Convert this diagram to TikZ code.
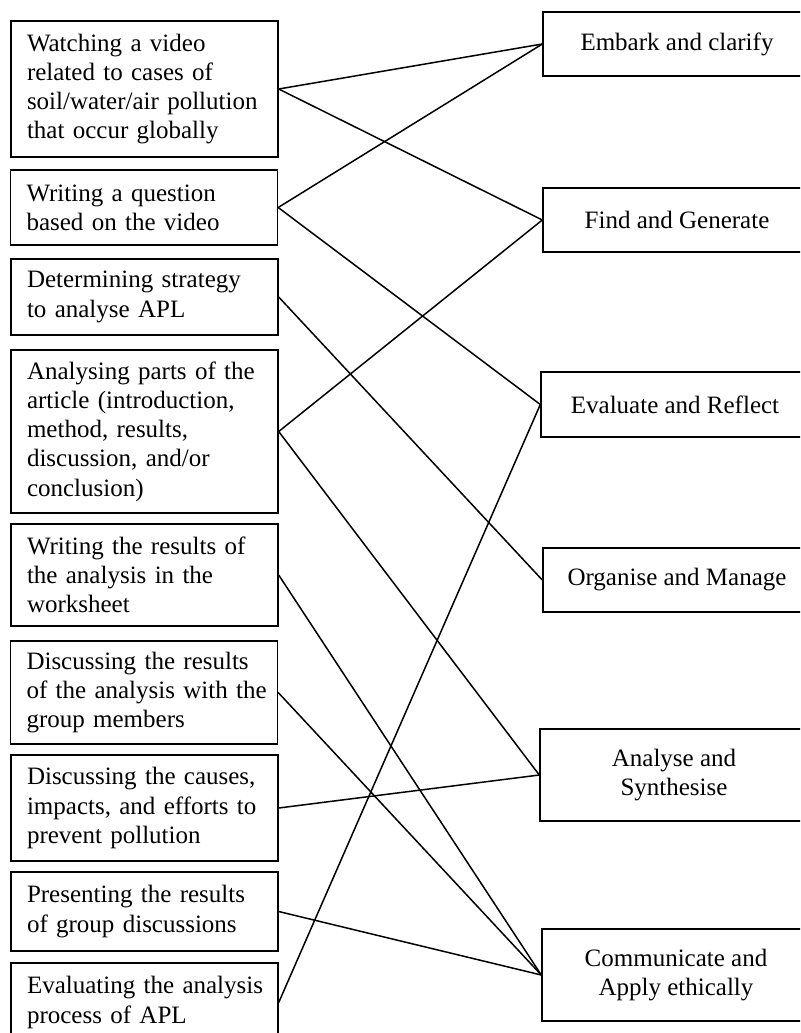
\documentclass[tikz,border=0pt]{standalone}
\usepackage{fontspec}
\setmainfont{Liberation Serif}
\usepackage{tikz}
\usetikzlibrary{positioning}
\tikzset{
  activity/.style={draw, line width=0.7pt, align=left, text width=125pt,
    inner xsep=4.25pt, minimum width=133.5pt,
    execute at begin node={\leftskip=3.75pt},
    font=\fontsize{12.5}{14.65}\selectfont},
  skill/.style={draw, line width=0.7pt, align=center, minimum width=134pt,
    font=\fontsize{12.5}{14.65}\selectfont},
  link/.style={line width=0.75pt}
}
\begin{document}
\begin{tikzpicture}[x=0.5pt, y=-0.5pt]
  \useasboundingbox (0,0) rectangle (800,1033);
  \clip (0,0) rectangle (800,1033);

  % activities
  \node[activity, minimum height=68pt] (watch) at (144.5,89)
    {Watching a video\\related to cases of\\soil/water/air pollution\\that occur globally};
  \node[activity, minimum height=37.5pt] (question) at (144,207.5)
    {Writing a question\\based on the video};
  \node[activity, minimum height=38pt] (strategy) at (144.5,297)
    {Determining strategy\\to analyse APL};
  \node[activity, minimum height=81.5pt] (parts) at (144.5,431.5)
    {Analysing parts of the\\article (introduction,\\method, results,\\discussion, and/or\\conclusion)};
  \node[activity, minimum height=51pt] (writeres) at (144.5,575)
    {Writing the results of\\the analysis in the\\worksheet};
  \node[activity, minimum height=51.5pt] (discuss) at (144,692.5)
    {Discussing the results\\of the analysis with the\\group members};
  \node[activity, minimum height=53pt] (causes) at (144.5,808)
    {Discussing the causes,\\impacts, and efforts to\\prevent pollution};
  \node[activity, minimum height=39.5pt] (present) at (144.5,911.5)
    {Presenting the results\\of group discussions};
  \node[activity, minimum height=39.5pt] (evalproc) at (144.5,1002.5)
    {Evaluating the analysis\\process of APL};

  % skills
  \node[skill, minimum height=32pt] (embark) at (677,44) {Embark and clarify};
  \node[skill, minimum height=32pt] (find) at (677,220) {Find and Generate};
  \node[skill, minimum height=32.5pt] (evaluate) at (675,404.5) {Evaluate and Reflect};
  \node[skill, minimum height=32pt] (organise) at (677,580) {Organise and Manage};
  \node[skill, minimum height=46pt] (analyse) at (674,775) {Analyse and\\Synthesise};
  \node[skill, minimum height=46pt] (communicate) at (676,975) {Communicate and\\Apply ethically};

  \draw[link] (watch.east) -- (embark.west);
  \draw[link] (watch.east) -- (find.west);
  \draw[link] (question.east) -- (embark.west);
  \draw[link] (question.east) -- (evaluate.west);
  \draw[link] (strategy.east) -- (organise.west);
  \draw[link] (parts.east) -- (find.west);
  \draw[link] (parts.east) -- (analyse.west);
  \draw[link] (writeres.east) -- (communicate.west);
  \draw[link] (discuss.east) -- (communicate.west);
  \draw[link] (causes.east) -- (analyse.west);
  \draw[link] (present.east) -- (communicate.west);
  \draw[link] (evalproc.east) -- (evaluate.west);
\end{tikzpicture}
\end{document}
